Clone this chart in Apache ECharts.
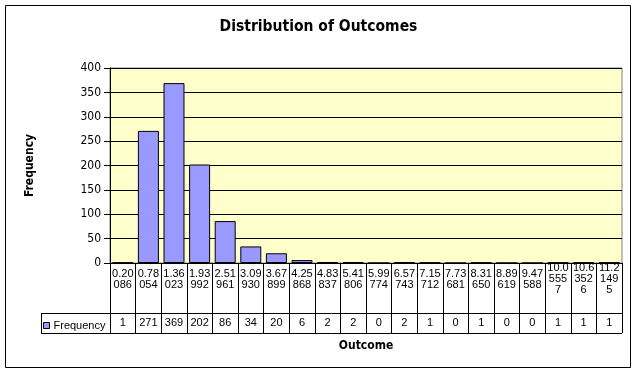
<!DOCTYPE html>
<html>
<head>
<meta charset="utf-8">
<script src="https://cdn.jsdelivr.net/npm/echarts@6/dist/echarts.min.js"></script>
<style>
html,body{margin:0;padding:0;background:#fff;}
#chart{width:637px;height:374px;}
</style>
</head>
<body>
<div id="chart"></div>
<script>
var categories = ["0.20086","0.78054","1.36023","1.93992","2.51961","3.09930","3.67899","4.25868","4.83837","5.41806","5.99774","6.57743","7.15712","7.73681","8.31650","8.89619","9.47588","10.05557","10.63526","11.21495"];
var frequency = [1,271,369,202,86,34,20,6,2,2,0,2,1,0,1,0,0,1,1,1];
var yTicks = {min:0, max:400, interval:50};
var seriesName = "Frequency";

function wrapLabel(s){
  var parts=[s.slice(0,4)];
  var rest=s.slice(4);
  while(rest.length>0){parts.push(rest.slice(0,3));rest=rest.slice(3);}
  return parts.join('\n');
}

var chart = echarts.init(document.getElementById('chart'), null, {renderer:'canvas'});
var condensed = '"DejaVu Sans Condensed","DejaVu Sans",sans-serif';
var arial = '"Liberation Sans",Arial,sans-serif';
chart.setOption({
  animation:false,
  backgroundColor:'#ffffff',
  title:{
    text:'Distribution of Outcomes',
    left:'center', top:14,
    textStyle:{fontFamily:condensed,fontSize:15.5,fontWeight:'bold',color:'#000'}
  },
  legend:{
    data:[seriesName],
    left:38, top:315,
    icon:'rect', itemWidth:6, itemHeight:6, itemGap:4,
    itemStyle:{borderWidth:1,borderColor:'#000'},
    textStyle:{fontFamily:arial,fontSize:11,color:'#000',padding:[0,0,0,-1]}
  },
  grid:{
    left:110, right:15, top:68, bottom:111,
    show:true, backgroundColor:'#FFFFCC', borderColor:'#808080', borderWidth:1
  },
  xAxis:[{
    type:'category',
    data:categories,
    name:'Outcome',
    nameLocation:'middle',
    nameGap:77,
    nameTextStyle:{fontFamily:condensed,fontSize:12,fontWeight:'bold',color:'#000',verticalAlign:'top'},
    axisLine:{show:true,lineStyle:{color:'#000',width:1}},
    axisTick:{show:true,length:70,lineStyle:{color:'#000',width:1}},
    axisLabel:{
      interval:0, margin:16, verticalAlign:'middle',
      fontFamily:arial, fontSize:11, lineHeight:11, color:'#000',
      formatter:function(v){return wrapLabel(v);}
    },
    splitLine:{show:false}
  },{
    type:'category',
    position:'bottom',
    offset:60,
    data:frequency.map(String),
    axisLine:{show:false},
    axisTick:{show:false},
    axisLabel:{interval:0,margin:0,verticalAlign:'middle',fontFamily:arial,fontSize:11,color:'#000'},
    splitLine:{show:false}
  }],
  yAxis:{
    type:'value',
    min:yTicks.min, max:yTicks.max, interval:yTicks.interval,
    name:'Frequency',
    nameLocation:'middle',
    nameRotate:90,
    nameGap:74,
    nameTextStyle:{fontFamily:condensed,fontSize:12,fontWeight:'bold',color:'#000'},
    axisLine:{show:true,lineStyle:{color:'#000',width:1}},
    axisTick:{show:true,length:6,lineStyle:{color:'#000'}},
    axisLabel:{margin:9,fontFamily:condensed,fontSize:12,color:'#000'},
    splitLine:{show:true,lineStyle:{color:'#000',width:1}}
  },
  series:[{
    name:seriesName,
    type:'bar',
    data:frequency,
    barCategoryGap:'18%',
    itemStyle:{color:'#9999FF',borderColor:'#000',borderWidth:1}
  }],
  graphic:[
    {type:'rect',shape:{x:5.5,y:5.5,width:625,height:362},style:{fill:null,stroke:'#000',lineWidth:1},silent:true},
    {type:'line',shape:{x1:41,y1:313.5,x2:622,y2:313.5},style:{stroke:'#000',lineWidth:1},silent:true},
    {type:'line',shape:{x1:41,y1:333.5,x2:622,y2:333.5},style:{stroke:'#000',lineWidth:1},silent:true},
    {type:'line',shape:{x1:41.5,y1:313,x2:41.5,y2:334},style:{stroke:'#000',lineWidth:1},silent:true}
  ]
});
</script>
</body>
</html>
